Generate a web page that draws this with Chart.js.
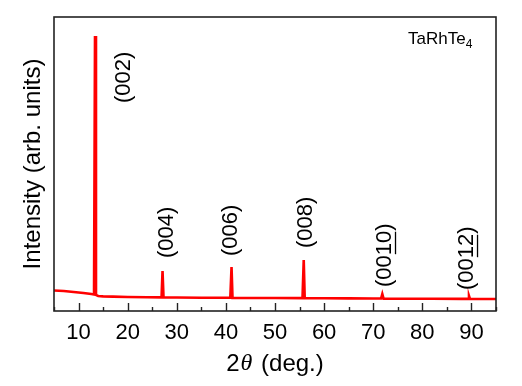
<!DOCTYPE html>
<html lang="en">
<head>
  <meta charset="UTF-8">
  <title>TaRhTe4 XRD</title>
  <script src="https://cdn.jsdelivr.net/npm/chart.js"></script>
  <style>
    body { margin: 0; background: #fff; }
  </style>
</head>
<body>
  <canvas id="xrdChart" width="522" height="386"></canvas>
  <script>
    // pattern (2theta in degrees, intensity in arb. units)
    const twoTheta = [5, 7, 9, 11, 12.6, 13.15, 13.35, 13.55, 14, 15, 17, 20, 24, 26.9, 27.1, 27.3, 30, 35, 40.9,
      41.15, 41.35, 45, 50, 55.6, 55.85, 56.05, 60, 65, 70, 71.6, 71.85, 72.1, 76, 82, 88, 89.3, 89.5, 89.7, 92, 95];
    const intensity = [20.5, 20, 19, 18, 17, 16.5, 275, 16, 15, 14.6, 14.4, 14, 13.8, 13.6, 40, 13.5, 13.5, 13.3, 13.2,
      44, 13.1, 13, 13, 12.9, 51, 12.8, 12.7, 12.6, 12.5, 12.5, 17, 12.4, 12.3, 12.2, 12.1, 12.1, 15, 12, 12, 12];

    const peakLabels = ['(002)', '(004)', '(006)', '(008)', '(00|10|)', '(00|12|)'];
    const peakLabelTheta = [19.2, 27.9, 41.0, 56.3, 72.4, 89.1];
    const peakLabelIntensity = [208, 53, 55, 63, 24, 21];

    const xTicks = [10, 20, 30, 40, 50, 60, 70, 80, 90];

    const points = twoTheta.map((t, i) => ({ x: t, y: intensity[i] }));

    const decorPlugin = {
      id: 'decor',
      afterDraw(chart) {
        const ctx = chart.ctx;
        const a = chart.chartArea;
        const xs = chart.scales.x;
        const ys = chart.scales.y;
        ctx.save();

        // frame
        ctx.strokeStyle = '#222';
        ctx.lineWidth = 1.6;
        ctx.strokeRect(a.left, a.top, a.right - a.left, a.bottom - a.top);

        // inward ticks on the bottom axis
        ctx.lineWidth = 1.4;
        for (let v = 5; v <= 95; v += 5) {
          const px = Math.round(xs.getPixelForValue(v)) + 0.5;
          const len = xTicks.includes(v) ? 8 : 4;
          ctx.beginPath();
          ctx.moveTo(px, a.bottom);
          ctx.lineTo(px, a.bottom - len);
          ctx.stroke();
        }

        // peak labels, rotated
        ctx.fillStyle = '#000';
        ctx.font = '22px "Liberation Sans", Arial, sans-serif';
        ctx.textAlign = 'left';
        ctx.textBaseline = 'middle';
        peakLabels.forEach((lab, i) => {
          const parts = lab.split('|');
          const px = xs.getPixelForValue(peakLabelTheta[i]);
          const py = ys.getPixelForValue(peakLabelIntensity[i]);
          ctx.save();
          ctx.translate(px, py);
          ctx.rotate(-Math.PI / 2);
          ctx.fillText(parts.join(''), 0, 0);
          if (parts.length > 1) {
            const w0 = ctx.measureText(parts[0]).width;
            const w1 = ctx.measureText(parts[1]).width;
            ctx.lineWidth = 1.3;
            ctx.strokeStyle = '#000';
            ctx.beginPath();
            ctx.moveTo(w0 + 1, 10.5);
            ctx.lineTo(w0 + w1 - 1, 10.5);
            ctx.stroke();
          }
          ctx.restore();
        });

        // compound name
        ctx.textBaseline = 'alphabetic';
        ctx.font = '17px "Liberation Sans", Arial, sans-serif';
        const nx = a.right - 88;
        const ny = a.top + 27;
        ctx.fillText('TaRhTe', nx, ny);
        const nw = ctx.measureText('TaRhTe').width;
        ctx.font = '12px "Liberation Sans", Arial, sans-serif';
        ctx.fillText('4', nx + nw, ny + 4);

        // x axis title with italic theta
        ctx.font = '24px "Liberation Sans", Arial, sans-serif';
        ctx.textBaseline = 'middle';
        const t1 = '2', t3 = ' (deg.)';
        const w1 = ctx.measureText(t1).width;
        const w3 = ctx.measureText(t3).width;
        ctx.font = 'italic 24px "Liberation Serif", serif';
        const w2 = ctx.measureText('\u03b8').width + 3;
        let tx = (a.left + a.right) / 2 - (w1 + w2 + w3) / 2;
        const ty = 364;
        ctx.font = '24px "Liberation Sans", Arial, sans-serif';
        ctx.fillText(t1, tx, ty);
        ctx.font = 'italic 24px "Liberation Serif", serif';
        ctx.fillText('\u03b8', tx + w1 + 1, ty);
        ctx.font = '24px "Liberation Sans", Arial, sans-serif';
        ctx.fillText(t3, tx + w1 + w2, ty);

        ctx.restore();
      }
    };

    const ctx = document.getElementById('xrdChart').getContext('2d');
    new Chart(ctx, {
      type: 'line',
      data: {
        datasets: [{
          data: points,
          borderColor: '#ff0000',
          borderWidth: 2.6,
          pointRadius: 0,
          tension: 0,
          fill: false
        }]
      },
      options: {
        responsive: false,
        animation: false,
        layout: { padding: { top: 17, right: 26, left: 0, bottom: 0 } },
        plugins: { legend: { display: false }, tooltip: { enabled: false } },
        scales: {
          x: {
            type: 'linear',
            min: 5,
            max: 95,
            border: { display: false },
            grid: { display: false, drawTicks: false },
            ticks: {
              stepSize: 5,
              autoSkip: false,
              maxRotation: 0,
              padding: 9,
              color: '#000',
              font: { size: 22, family: '"Liberation Sans", Arial, sans-serif' },
              callback: v => xTicks.includes(v) ? String(v) : ''
            },
            afterFit: s => { s.height = 75; }
          },
          y: {
            min: 0,
            max: 294,
            border: { display: false },
            grid: { display: false },
            ticks: { display: false },
            title: {
              display: true,
              text: 'Intensity (arb. units)',
              color: '#000',
              padding: { top: 19, bottom: 0 },
              font: { size: 24, family: '"Liberation Sans", Arial, sans-serif' }
            },
            afterFit: s => { s.width = 54; }
          }
        }
      },
      plugins: [decorPlugin]
    });
  </script>
</body>
</html>
